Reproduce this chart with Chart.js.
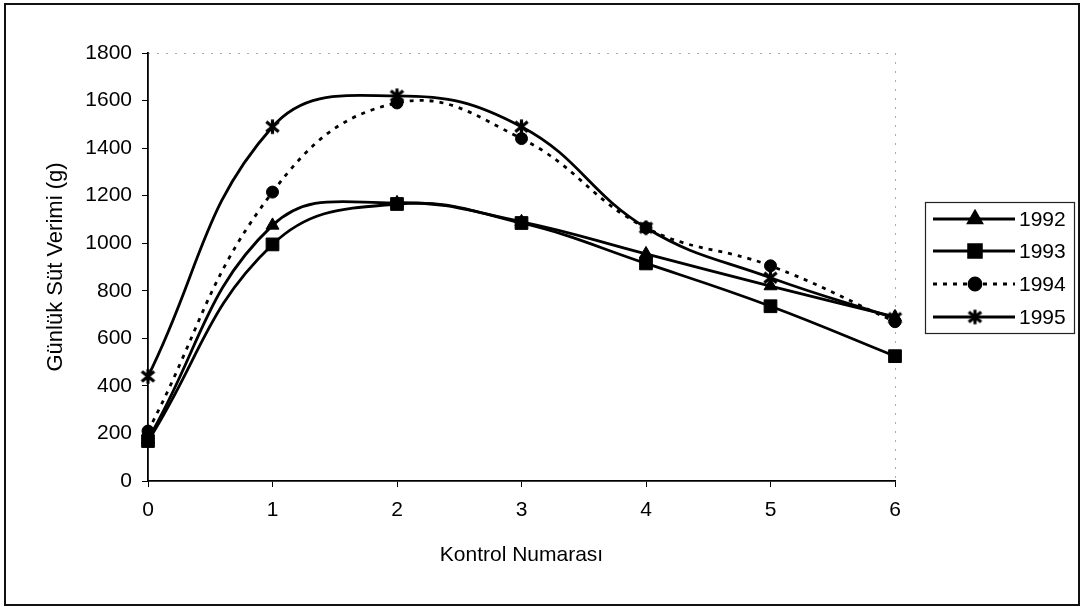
<!DOCTYPE html>
<html><head><meta charset="utf-8">
<script src="https://cdn.jsdelivr.net/npm/chart.js@4.4.0/dist/chart.umd.min.js"></script>
<style>html,body{margin:0;padding:0;background:#fff}#wrap{width:1084px;height:607px;position:relative}</style>
</head><body><div id="wrap"><canvas id="c" width="1084" height="607"></canvas></div>
<script>
// ---- data ----
const categories = ['0','1','2','3','4','5','6'];
const seriesNames = ['1992','1993','1994','1995'];
const y1992 = [175, 1075, 1170, 1090, 955, 820, 690];
const y1993 = [168, 995, 1165, 1085, 915, 735, 525];
const y1994 = [210, 1215, 1590, 1440, 1065, 905, 670];
const y1995 = [440, 1490, 1620, 1490, 1065, 855, 685];
const yMin = 0, yMax = 1800, yStep = 200;
const xTitle = 'Kontrol Numarası';
const yTitle = 'Günlük Süt Verimi (g)';

const FONT = '"Liberation Sans", Arial, sans-serif';

function makeAsterisk(size) {
  const c = document.createElement('canvas');
  c.width = size; c.height = size;
  const g = c.getContext('2d');
  g.strokeStyle = '#000'; g.lineWidth = 3.2;
  const m = size / 2, r = size / 2 - 1.2;
  g.beginPath();
  g.moveTo(m - r * 0.85, m - r * 0.7); g.lineTo(m + r * 0.85, m + r * 0.7);
  g.moveTo(m + r * 0.85, m - r * 0.7); g.lineTo(m - r * 0.85, m + r * 0.7);
  g.moveTo(m, m - r); g.lineTo(m, m + r);
  g.stroke();
  return c;
}
const asterisk = makeAsterisk(17);

const styles = [
  {pointStyle: 'triangle', pointRadius: 7.5, dash: []},
  {pointStyle: 'rect', pointRadius: 9, dash: []},
  {pointStyle: 'circle', pointRadius: 6, dash: [4, 6]},
  {pointStyle: asterisk, pointRadius: 8, dash: []}
];
const values = [y1992, y1993, y1994, y1995];

const datasets = seriesNames.map((name, i) => ({
  label: name,
  data: values[i],
  borderColor: '#000',
  backgroundColor: '#000',
  borderWidth: 2.8,
  borderDash: styles[i].dash,
  tension: 0.42,
  pointStyle: styles[i].pointStyle,
  pointRadius: styles[i].pointRadius,
  pointHoverRadius: styles[i].pointRadius,
  pointBackgroundColor: '#000',
  pointBorderColor: '#000',
  pointBorderWidth: 1,
  fill: false
}));

const framePlugin = {
  id: 'frame',
  beforeDraw(chart) {
    const ctx = chart.ctx;
    ctx.save();
    ctx.fillStyle = '#fff';
    ctx.fillRect(0, 0, chart.width, chart.height);
    const a = chart.chartArea;
    ctx.strokeStyle = '#aaa';
    ctx.lineWidth = 1;
    ctx.setLineDash([2, 7]);
    ctx.beginPath();
    ctx.moveTo(a.left, a.top + 0.5); ctx.lineTo(a.right, a.top + 0.5);
    ctx.moveTo(a.right + 0.5, a.top); ctx.lineTo(a.right + 0.5, a.bottom);
    ctx.stroke();
    ctx.restore();
  },
  afterDraw(chart) {
    const ctx = chart.ctx;
    ctx.save();
    ctx.strokeStyle = '#111';
    ctx.lineWidth = 2;
    ctx.strokeRect(5, 4, 1074, 601);
    const lx = 925, ly = 202, lw = 149, lh = 131;
    ctx.lineWidth = 1.2;
    ctx.strokeStyle = '#222';
    ctx.strokeRect(lx + 0.5, ly + 0.5, lw, lh);
    const rows = [219, 251, 284, 317];
    chart.data.datasets.forEach((ds, i) => {
      const y = rows[i];
      ctx.strokeStyle = '#000';
      ctx.lineWidth = 2.8;
      ctx.setLineDash(ds.borderDash || []);
      ctx.beginPath();
      ctx.moveTo(933, y); ctx.lineTo(1015, y);
      ctx.stroke();
      ctx.setLineDash([]);
      ctx.fillStyle = '#000';
      ctx.strokeStyle = '#000';
      Chart.helpers.drawPoint(ctx, {pointStyle: ds.pointStyle, radius: ds.pointRadius, rotation: 0, borderWidth: 1}, 975, y);
      ctx.fillStyle = '#000';
      ctx.font = '21px ' + FONT;
      ctx.textAlign = 'left';
      ctx.textBaseline = 'middle';
      ctx.fillText(ds.label, 1019, y + 1);
    });
    ctx.restore();
  }
};

new Chart(document.getElementById('c'), {
  type: 'line',
  data: {labels: categories, datasets},
  options: {
    responsive: false,
    animation: false,
    devicePixelRatio: 1,
    layout: {padding: {left: 0, top: 53, right: 189, bottom: 0}},
    plugins: {legend: {display: false}, tooltip: {enabled: false}},
    scales: {
      x: {
        type: 'category',
        offset: false,
        grid: {display: true, drawOnChartArea: false, drawTicks: true, tickLength: 6, color: '#000', tickColor: '#000', tickWidth: 1},
        border: {display: true, color: '#000', width: 1.8},
        ticks: {color: '#000', font: {family: FONT, size: 21}, padding: 11, maxRotation: 0, autoSkip: false},
        title: {display: true, text: xTitle, color: '#000', font: {family: FONT, size: 21}, padding: {top: 0, bottom: 39}},
        afterFit(s) { s.height = 126; }
      },
      y: {
        min: yMin, max: yMax,
        grid: {display: true, drawOnChartArea: false, drawTicks: true, tickLength: 6, color: '#000', tickColor: '#000', tickWidth: 1},
        border: {display: true, color: '#000', width: 1.8},
        ticks: {stepSize: yStep, color: '#000', font: {family: FONT, size: 21}, padding: 10,
                callback: (v) => String(v)},
        title: {display: true, text: yTitle, color: '#000', font: {family: FONT, size: 22}, padding: {top: 43, bottom: 0}},
        afterFit(s) { s.width = 148; }
      }
    }
  },
  plugins: [framePlugin]
});
</script>
</body></html>
